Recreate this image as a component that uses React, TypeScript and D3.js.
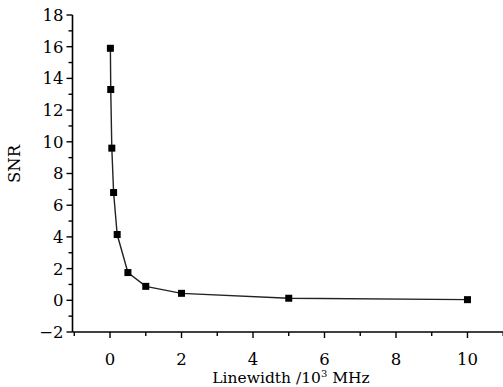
import * as d3 from "d3";
import { useRef, useEffect } from "react";

const linewidth = [0.01, 0.02, 0.05, 0.1, 0.2, 0.5, 1, 2, 5, 10];
const snr = [15.9, 13.3, 9.6, 6.8, 4.15, 1.75, 0.88, 0.44, 0.13, 0.04];
const xTicks = [0, 2, 4, 6, 8, 10];
const yTicks = [-2, 0, 2, 4, 6, 8, 10, 12, 14, 16, 18];

export default function App() {
  const svgRef = useRef<SVGSVGElement>(null);
  const width = 503;
  const height = 387;

  useEffect(() => {
    const svg = d3.select(svgRef.current);
    svg.selectAll("*").remove();
    const font = "DejaVu Serif, serif";

    const x = d3.scaleLinear().domain([-1.05, 11.05]).range([72.5, 505]);
    const y = d3.scaleLinear().domain([-2, 18]).range([332, 15]);

    // minor ticks
    const xMinor = d3.range(-1, 12, 1).filter((v) => v % 2 !== 0);
    const yMinor = d3.range(-1, 18, 2);

    const xAxis = svg.append("g").attr("transform", `translate(0,${y(-2)})`);
    xAxis.append("line")
      .attr("x1", x(-1.05)).attr("x2", width)
      .attr("stroke", "#000").attr("stroke-width", 1.6);
    xAxis.selectAll(".maj").data(xTicks).join("line")
      .attr("x1", (d) => x(d)).attr("x2", (d) => x(d))
      .attr("y1", 0).attr("y2", 6)
      .attr("stroke", "#000").attr("stroke-width", 1.4);
    xAxis.selectAll(".min").data(xMinor).join("line")
      .attr("x1", (d) => x(d)).attr("x2", (d) => x(d))
      .attr("y1", 0).attr("y2", 4)
      .attr("stroke", "#000").attr("stroke-width", 1.4);
    xAxis.selectAll("text").data(xTicks).join("text")
      .attr("x", (d) => x(d)).attr("y", 32.5)
      .attr("text-anchor", "middle")
      .attr("font-family", font).attr("font-size", 16.5)
      .text((d) => d);

    const yAxis = svg.append("g").attr("transform", `translate(${x(-1.05)},0)`);
    yAxis.append("line")
      .attr("y1", y(18)).attr("y2", y(-2))
      .attr("stroke", "#000").attr("stroke-width", 1.6);
    yAxis.selectAll(".maj").data(yTicks).join("line")
      .attr("x1", 0).attr("x2", -6)
      .attr("y1", (d) => y(d)).attr("y2", (d) => y(d))
      .attr("stroke", "#000").attr("stroke-width", 1.4);
    yAxis.selectAll(".min").data(yMinor).join("line")
      .attr("x1", 0).attr("x2", -4)
      .attr("y1", (d) => y(d)).attr("y2", (d) => y(d))
      .attr("stroke", "#000").attr("stroke-width", 1.4);
    yAxis.selectAll("text").data(yTicks).join("text")
      .attr("x", -9).attr("y", (d) => y(d))
      .attr("dy", "0.36em")
      .attr("text-anchor", "end")
      .attr("font-family", font).attr("font-size", 16.5)
      .text((d) => (d < 0 ? "\u2212" + Math.abs(d) : d));

    // axis titles
    const xt = svg.append("text")
      .attr("x", 291).attr("y", 382.5)
      .attr("text-anchor", "middle")
      .attr("font-family", font).attr("font-size", 15.5);
    xt.append("tspan").text("Linewidth /10");
    xt.append("tspan").attr("font-size", 10).attr("dy", -6).text("3");
    xt.append("tspan").attr("dy", 6).text(" MHz");

    svg.append("text")
      .attr("transform", "translate(20,164) rotate(-90)")
      .attr("text-anchor", "middle")
      .attr("font-family", font).attr("font-size", 16.5)
      .text("SNR");

    const pts = linewidth.map((v, i) => [v, snr[i]] as [number, number]);
    const line = d3.line<[number, number]>()
      .x((d) => x(d[0]))
      .y((d) => y(d[1]));

    svg.append("path")
      .datum(pts)
      .attr("d", line)
      .attr("fill", "none")
      .attr("stroke", "#222")
      .attr("stroke-width", 1.4);

    svg.append("g")
      .selectAll("rect")
      .data(pts)
      .join("rect")
      .attr("x", (d) => x(d[0]) - 3.5)
      .attr("y", (d) => y(d[1]) - 3.5)
      .attr("width", 7)
      .attr("height", 7)
      .attr("fill", "#000");
  }, []);

  return (
    <svg
      ref={svgRef}
      width={width}
      height={height}
      style={{ position: "absolute", left: 0, top: 0, background: "#fff" }}
    />
  );
}
